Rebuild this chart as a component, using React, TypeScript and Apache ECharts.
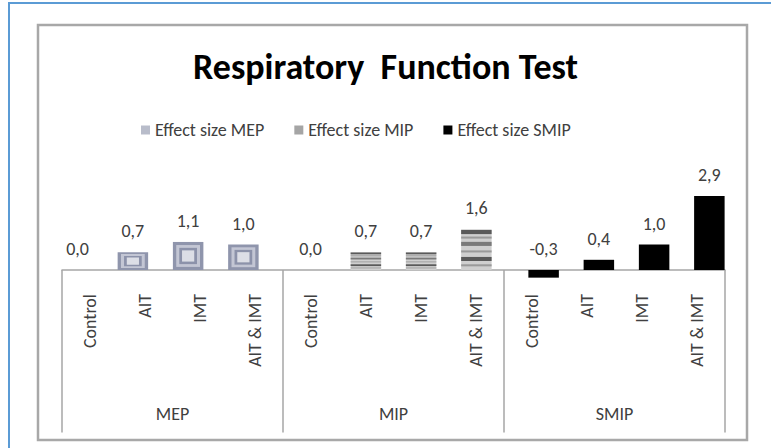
import React, { useEffect, useRef } from "react";
import * as echarts from "echarts";

const titleText = "Respiratory  Function Test";
const groups = ["MEP", "MIP", "SMIP"];
const categories = ["Control", "AIT", "IMT", "AIT & IMT"];
const seriesNames = ["Effect size MEP", "Effect size MIP", "Effect size SMIP"];
const mepValues = [0.0, 0.7, 1.1, 1.0];
const mipValues = [0.0, 0.7, 0.7, 1.6];
const smipValues = [-0.3, 0.4, 1.0, 2.9];

const FONT = "Carlito, Lato, 'Open Sans', sans-serif";
const TEXT = "#404040";
const LINE = "#a6a6a6";
const FS = 18;

const catKeys: string[] = [];
groups.forEach((g) => categories.forEach((c) => catKeys.push(g + "|" + c)));

const fmt = (v: number) => v.toFixed(1).replace(".", ",");

function makeRender(kind: string, offsetFrac: number) {
  return (params: any, api: any) => {
    const idx = api.value(0);
    const v = api.value(1);
    const band = api.size([1, 0])[0];
    const base = api.coord([idx, 0]);
    const top = api.coord([idx, v]);
    const cx = base[0] + offsetFrac * band;
    const w = band * 0.552;
    const x0 = cx - w / 2;
    const y0 = Math.min(base[1], top[1]);
    const h = Math.abs(base[1] - top[1]);
    const children: any[] = [];
    if (h > 0) {
      if (kind === "mep") {
        const layers: [number, string][] = [
          [0, "#8f95ac"],
          [0.11, "#c3c6d4"],
          [0.21, "#8c92aa"],
          [0.3, "#dcdee6"],
        ];
        layers.forEach(([k, c]) => {
          children.push({
            type: "rect",
            shape: { x: x0 + w * k, y: y0 + h * k, width: w * (1 - 2 * k), height: h * (1 - 2 * k) },
            style: { fill: c },
          });
        });
      } else if (kind === "mip") {
        children.push({ type: "rect", shape: { x: x0, y: y0, width: w, height: h }, style: { fill: "#cfcfcf" } });
        const bands: [number, number, string][] = [
          [0.02, 0.12, "#5a5a5a"],
          [0.18, 0.23, "#9a9a9a"],
          [0.31, 0.41, "#7a7a7a"],
          [0.52, 0.57, "#9a9a9a"],
          [0.68, 0.78, "#5a5a5a"],
          [0.86, 0.91, "#9a9a9a"],
        ];
        bands.forEach(([a, b, c]) => {
          children.push({
            type: "rect",
            shape: { x: x0, y: y0 + h * a, width: w, height: Math.max(0.8, h * (b - a)) },
            style: { fill: c },
          });
        });
      } else {
        children.push({ type: "rect", shape: { x: x0, y: y0, width: w, height: h }, style: { fill: "#000000" } });
      }
    }
    children.push({
      type: "text",
      style: {
        text: fmt(v),
        x: cx,
        y: y0 - 21,
        align: "center",
        verticalAlign: "middle",
        fontSize: FS,
        fontFamily: FONT,
        fill: TEXT,
      },
    });
    return { type: "group", children };
  };
}

const toData = (vals: number[], g: number) => vals.map((v, i) => [g * categories.length + i, v]);

export default function App() {
  const ref = useRef<HTMLDivElement>(null);
  useEffect(() => {
    if (!ref.current) return;
    const chart = echarts.init(ref.current, null, { renderer: "svg" });
    const option: any = {
      animation: false,
      backgroundColor: "#ffffff",
      title: {
        text: titleText,
        left: "center",
        top: 44,
        textStyle: { fontFamily: FONT, fontSize: 36, fontWeight: "bold", color: "#000000" },
      },
      legend: {
        left: 136,
        top: 116,
        itemWidth: 9,
        itemHeight: 9,
        itemGap: 30,
        icon: "rect",
        data: seriesNames,
        textStyle: { fontFamily: FONT, fontSize: FS, color: TEXT },
      },
      grid: { left: 62, right: 46, top: 178.2, bottom: 178, outerBoundsMode: "none", containLabel: false },
      xAxis: [
        {
          type: "category",
          data: catKeys,
          position: "bottom",
          axisLine: { onZero: false, lineStyle: { color: LINE, width: 1.5 } },
          axisTick: { show: false },
          axisLabel: {
            interval: 0,
            rotate: 90,
            margin: 24,
            fontFamily: FONT,
            fontSize: FS,
            color: TEXT,
            formatter: (s: string) => s.split("|")[1],
          },
        },
        {
          type: "category",
          data: groups,
          position: "bottom",
          offset: 162.5,
          axisLine: { show: false, onZero: false },
          axisTick: { show: true, inside: true, length: 162.5, lineStyle: { color: LINE, width: 1.5 } },
          axisLabel: { inside: true, margin: 10, fontFamily: FONT, fontSize: FS, color: TEXT },
        },
      ],
      yAxis: { type: "value", min: 0, max: 3.6, show: false },
      graphic: [
        {
          type: "rect",
          silent: true,
          z: -10,
          shape: { x: 9, y: 3, width: 800, height: 500 },
          style: { fill: "none", stroke: "#5b9bd5", lineWidth: 2 },
        },
        {
          type: "rect",
          silent: true,
          z: -10,
          shape: { x: 38, y: 25, width: 709, height: 415 },
          style: { fill: "none", stroke: "#a8a8a8", lineWidth: 2.5 },
        },
      ],
      series: [
        {
          name: seriesNames[0],
          type: "custom",
          clip: false,
          itemStyle: { color: "#b8bcca" },
          renderItem: makeRender("mep", -0.217),
          data: toData(mepValues, 0),
        },
        {
          name: seriesNames[1],
          type: "custom",
          clip: false,
          itemStyle: { color: "#a5a5a5" },
          renderItem: makeRender("mip", 0),
          data: toData(mipValues, 1),
        },
        {
          name: seriesNames[2],
          type: "custom",
          clip: false,
          itemStyle: { color: "#000000" },
          renderItem: makeRender("smip", 0.217),
          data: toData(smipValues, 2),
        },
      ],
    };
    chart.setOption(option);
    return () => chart.dispose();
  }, []);
  return (
    <div
      ref={ref}
      style={{ position: "fixed", left: 0, top: 0, width: 771, height: 448, background: "#fff" }}
    />
  );
}
